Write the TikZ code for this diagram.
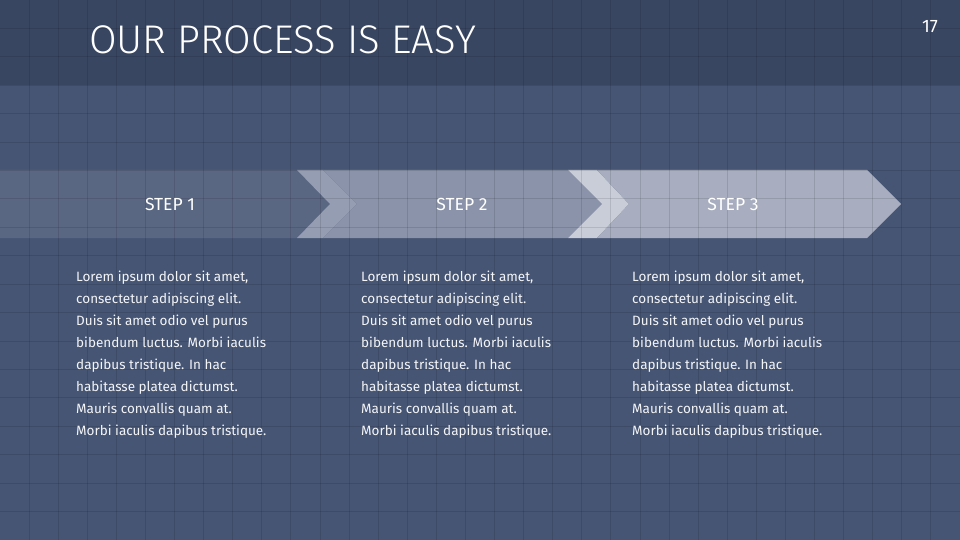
\documentclass[tikz,border=0pt]{standalone}
\usepackage{fontspec}
\setmainfont{Fira Sans}
\newfontfamily\thinfont{Fira Sans Light}
\usepackage{xcolor}
\usepackage{tikz}
\usetikzlibrary{positioning}

\definecolor{headbg}{HTML}{394662}
\definecolor{bodybg}{HTML}{465574}
\definecolor{stepone}{HTML}{5A6782}
\definecolor{stripeone}{HTML}{959DB2}
\definecolor{steptwo}{HTML}{8A93A9}
\definecolor{stripetwo}{HTML}{C9CDD8}
\definecolor{stepthree}{HTML}{A8AEBF}

\begin{document}
\begin{tikzpicture}[
  x=1pt, y=-1pt,
  gridline/.style = {draw=black, opacity=0.11, line width=1pt},
  title/.style = {
    anchor=base west, inner sep=0pt, text=white,
    font=\thinfont\fontsize{40}{40}\selectfont
  },
  pagenum/.style = {text=white, inner sep=0pt, font=\fontsize{18}{18}\selectfont},
  steplabel/.style = {text=white, inner sep=0pt, font=\fontsize{17.5}{17.5}\selectfont},
  bodytext/.style = {
    anchor=north west, inner sep=0pt, align=left,
    text=white!94!bodybg,
    font=\fontsize{13.5}{22}\selectfont
  }
]
\useasboundingbox (0,0) rectangle (960,540);

% Backgrounds
\fill[bodybg] (0,0) rectangle (960,540);
\fill[headbg] (0,0) rectangle (960,85);

% Chevron band
\fill[stepone]    (0,170) -- (297,170) -- (330,204) -- (297,238) -- (0,238) -- cycle;
\fill[stripeone]  (297,170) -- (323,170) -- (357,204) -- (323,238) -- (297,238) -- (330,204) -- cycle;
\fill[steptwo]    (323,170) -- (568,170) -- (602,204) -- (568,238) -- (323,238) -- (357,204) -- cycle;
\fill[stripetwo]  (568,170) -- (597,170) -- (629,204) -- (597,238) -- (568,238) -- (602,204) -- cycle;
\fill[stepthree]  (597,170) -- (867,170) -- (901,204) -- (867,238) -- (597,238) -- (629,204) -- cycle;

% Grid
\foreach \i in {1,...,32}
  \draw[gridline] ({\i*29.0909},0) -- ({\i*29.0909},540);
\foreach \j in {1,...,18}
  \draw[gridline] (0,{\j*28.4211}) -- (960,{\j*28.4211});

% Header
\node[title] (title) at (89,54) {OUR PROCESS IS EASY};
\node[pagenum] (page) at (930,27) {17};

% Step labels
\node[steplabel] (step1) at (170,204) {STEP 1};
\node[steplabel] (step2) at (462,204) {STEP 2};
\node[steplabel] (step3) at (733,204) {STEP 3};

% Column texts
\node[bodytext] (text1) at (76,271) {Lorem ipsum dolor sit amet,\\consectetur adipiscing elit.\\Duis sit amet odio vel purus\\bibendum luctus. Morbi iaculis\\dapibus tristique. In hac\\habitasse platea dictumst.\\Mauris convallis quam at.\\Morbi iaculis dapibus tristique.};
\node[bodytext] (text2) at (361,271) {Lorem ipsum dolor sit amet,\\consectetur adipiscing elit.\\Duis sit amet odio vel purus\\bibendum luctus. Morbi iaculis\\dapibus tristique. In hac\\habitasse platea dictumst.\\Mauris convallis quam at.\\Morbi iaculis dapibus tristique.};
\node[bodytext] (text3) at (632,271) {Lorem ipsum dolor sit amet,\\consectetur adipiscing elit.\\Duis sit amet odio vel purus\\bibendum luctus. Morbi iaculis\\dapibus tristique. In hac\\habitasse platea dictumst.\\Mauris convallis quam at.\\Morbi iaculis dapibus tristique.};
\end{tikzpicture}
\end{document}
